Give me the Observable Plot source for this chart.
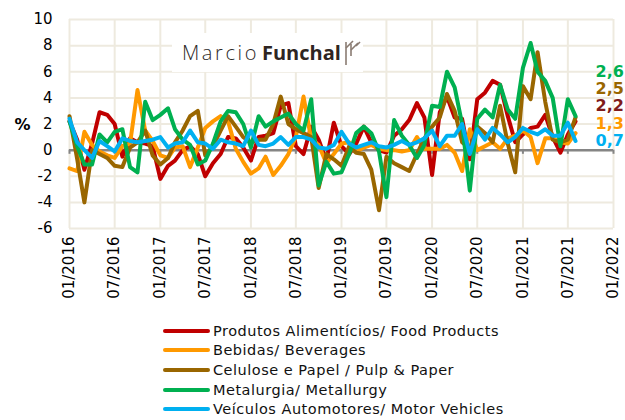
<!DOCTYPE html>
<html><head><meta charset="utf-8">
<script src="https://cdn.jsdelivr.net/npm/d3@7"></script>
<script src="https://cdn.jsdelivr.net/npm/@observablehq/plot@0.6"></script>
<style>
body{margin:0;background:#fff;width:625px;height:420px;overflow:hidden;font-family:"DejaVu Sans",sans-serif;}
#wrap{position:relative;width:625px;}
#logo{position:absolute;left:172px;top:33px;width:191px;height:39px;background:#fff;display:flex;align-items:center;white-space:nowrap;}
#logo .m{font-family:"Open Sans",sans-serif;font-weight:300;font-size:20px;letter-spacing:2.6px;color:#2e2a28;margin-left:10px;}
#logo .f{font-family:"Open Sans",sans-serif;font-weight:700;font-size:20px;color:#2e2522;margin-left:3px;}
#legend{margin-top:3px;}
.row{display:flex;align-items:center;height:19.6px;}
.sw{display:inline-block;width:47px;height:4px;border-radius:2px;margin-left:163px;margin-right:3px;}
.lt{font-family:"DejaVu Sans",sans-serif;font-size:14.5px;letter-spacing:0.5px;color:#111;}
</style></head><body><div id="wrap"></div>
<script>
const seriesNames = ["Produtos Alimentícios/ Food Products","Bebidas/ Beverages","Celulose e Papel / Pulp & Paper","Metalurgia/ Metallurgy","Veículos Automotores/ Motor Vehicles"];
const seriesColors = ["#C00000","#FF9900","#996600","#00B050","#00B0F0"];
const food = [2.2,0.8,-1.5,0.5,2.9,2.7,2.0,-0.5,0.9,0.6,0.5,0.3,
 -2.2,-1.2,-0.8,0.0,0.3,-0.3,-2.0,-1.0,-0.3,1.0,0.9,0.2,
 -0.8,1.0,1.1,1.3,3.4,3.6,0.3,-0.3,1.8,0.8,-0.8,2.1,
 0.3,-0.3,0.5,1.8,0.6,0.0,-0.2,1.1,1.6,2.3,3.6,2.5,
 -1.9,2.9,4.1,2.5,2.4,-0.7,3.9,4.4,5.3,5.0,2.6,0.6,
 1.2,1.7,1.8,2.7,1.0,-0.2,1.2,2.2];
const beverages = [-1.4,-1.6,1.4,0.4,-0.1,-0.4,-0.6,0.3,0.5,4.6,1.5,0.7,
 -0.4,-0.6,0.2,0.3,-1.3,0.2,1.7,2.2,2.6,2.2,0.1,-0.9,
 -1.8,-1.4,-0.5,-1.9,-1.2,-0.3,1.0,4.1,0.8,0.4,-1.0,-0.3,
 0.5,0.6,-0.1,0.2,0.4,0.1,0.0,0.0,-0.1,0.0,1.0,0.1,
 0.1,0.1,0.4,-0.2,-1.6,1.6,0.0,0.3,0.6,0.1,0.9,1.1,
 1.5,1.0,-1.0,0.9,0.9,0.6,0.5,1.3];
const pulp = [2.6,-0.7,-4.0,0.0,-0.3,-0.6,-1.2,-1.3,0.2,0.6,1.5,-0.4,
 -1.1,-0.6,0.6,1.5,2.6,3.0,-0.4,0.3,1.5,2.6,1.8,1.0,
 0.6,0.8,0.8,2.0,4.1,2.0,1.6,1.3,1.0,-2.9,-0.3,-0.7,
 -1.2,0.3,-0.2,-0.3,-1.5,-4.6,-0.5,-1.0,-1.3,-1.6,-0.3,0.9,
 1.8,2.5,4.3,3.0,0.6,0.1,1.8,1.3,0.6,3.4,0.5,-1.7,
 4.9,3.9,7.5,3.7,0.8,0.6,0.8,2.5];
const metal = [2.2,0.3,-1.1,-1.1,1.2,0.6,1.4,1.6,-1.3,-1.7,3.7,2.3,
 2.7,3.2,1.6,0.8,0.4,-1.1,-0.8,0.5,2.2,3.0,2.9,2.0,
 0.2,2.6,1.8,2.2,2.5,2.8,2.0,1.5,3.9,-2.7,-0.9,-1.8,
 -1.7,-0.3,1.3,1.8,1.3,-0.1,-3.6,2.3,1.1,0.4,-0.6,0.4,
 3.4,3.3,6.0,4.8,2.0,-3.1,2.4,3.1,2.5,5.0,3.1,2.4,
 6.3,8.2,6.0,5.3,4.0,0.3,3.9,2.6];
const vehicles = [2.4,0.6,0.0,-0.6,0.7,0.3,-0.1,0.9,0.7,0.6,0.7,0.8,
 1.0,0.2,0.5,0.6,1.5,0.6,0.5,0.1,0.8,0.6,0.5,0.3,
 1.5,0.4,0.3,0.5,1.0,0.4,1.0,1.0,0.8,0.2,0.1,0.4,
 1.4,0.5,0.2,0.4,0.6,0.3,0.2,0.4,0.7,0.4,0.6,0.9,
 1.5,0.3,1.1,1.1,2.0,-0.3,1.6,0.8,1.7,1.2,0.6,1.0,
 1.7,1.4,1.2,1.6,1.1,1.1,2.1,0.7];
const xTickLabels = ["01/2016","07/2016","01/2017","07/2017","01/2018","07/2018","01/2019","07/2019","01/2020","07/2020","01/2021","07/2021","01/2022"];
const yTicks = [-6,-4,-2,0,2,4,6,8,10];
const endLabels = ["2,6","2,5","2,2","1,3","0,7"];
const endColors = ["#00B050","#996600","#7F1A1A","#FF9900","#00B0F0"];

const parseMY = d3.utcParse("%m/%Y");
const xTickDates = xTickLabels.map(parseMY);
const months = d3.utcMonth.range(new Date(Date.UTC(2016,0,1)), new Date(Date.UTC(2021,8,1)));
const lastDate = months[months.length-1];
const allSeries = [food, beverages, pulp, metal, vehicles];
const table = [];
allSeries.forEach((vals, s) => vals.forEach((v, i) => table.push({date: months[i], value: v, series: seriesNames[s]})));

const grid = {stroke:"#EEEADF", strokeOpacity:1, strokeWidth:2};
const chart = Plot.plot({
  width:625, height:318,
  marginTop:19, marginBottom:90, marginLeft:69, marginRight:12,
  x:{type:"utc", domain:[xTickDates[0], xTickDates[xTickDates.length-1]]},
  y:{domain:[-6,10]},
  color:{domain:seriesNames, range:seriesColors},
  style:{fontFamily:"DejaVu Sans, sans-serif", fontSize:"15px", color:"#000", background:"#fff", overflow:"visible"},
  marks:[
    Plot.gridX(xTickDates, grid),
    Plot.gridY(yTicks, grid),
    Plot.ruleY([0], {stroke:"#858585", strokeWidth:2.5}),
    Plot.ruleX(xTickDates, {y1:0, y2:-0.32, stroke:"#858585", strokeWidth:2}),
    Plot.line(table, {x:"date", y:"value", z:"series", stroke:"series", strokeWidth:4, strokeLinejoin:"round"}),
    Plot.axisY(yTicks, {tickSize:0, tickPadding:17, tickFormat:d=>String(d), label:null, fontSize:15}),
    Plot.axisX(xTickDates, {tickSize:0, tickPadding:8, tickRotate:-90, tickFormat:d3.utcFormat("%m/%Y"), label:null, fontSize:15}),
    Plot.text(["%"], {text:d=>d, frameAnchor:"left", dx:-55, dy:1, fontWeight:"bold", fontSize:16}),
    ...endLabels.map((t,i) => Plot.text([t], {text:d=>d, x:()=>lastDate, y:()=>6 - i*1.32, dx:20, textAnchor:"start", fill:endColors[i], fontWeight:"bold", fontSize:16}))
  ]
});
const wrap = document.getElementById("wrap");
wrap.appendChild(chart);
const logo = document.createElement("div");
logo.id = "logo";
logo.innerHTML = '<span class="m">Marcio</span><span class="f">Funchal</span>' +
  '<svg width="18" height="26" style="margin-left:3px" viewBox="0 0 18 26"><g stroke="#8a7b72" stroke-width="1.6" fill="none">' +
  '<line x1="2" y1="2" x2="2" y2="25"/><line x1="7" y1="4" x2="7" y2="16"/>' +
  '<line x1="2" y1="8" x2="9" y2="1"/><line x1="7" y1="10" x2="14" y2="3"/><line x1="12" y1="6" x2="16" y2="2"/></g></svg>';
wrap.appendChild(logo);
const legend = document.createElement("div");
legend.id = "legend";
seriesNames.forEach((n,i) => {
  const r = document.createElement("div");
  r.className = "row";
  r.innerHTML = `<span class="sw" style="background:${seriesColors[i]}"></span><span class="lt">${n}</span>`;
  legend.appendChild(r);
});
document.body.appendChild(legend);
</script>
</body></html>
